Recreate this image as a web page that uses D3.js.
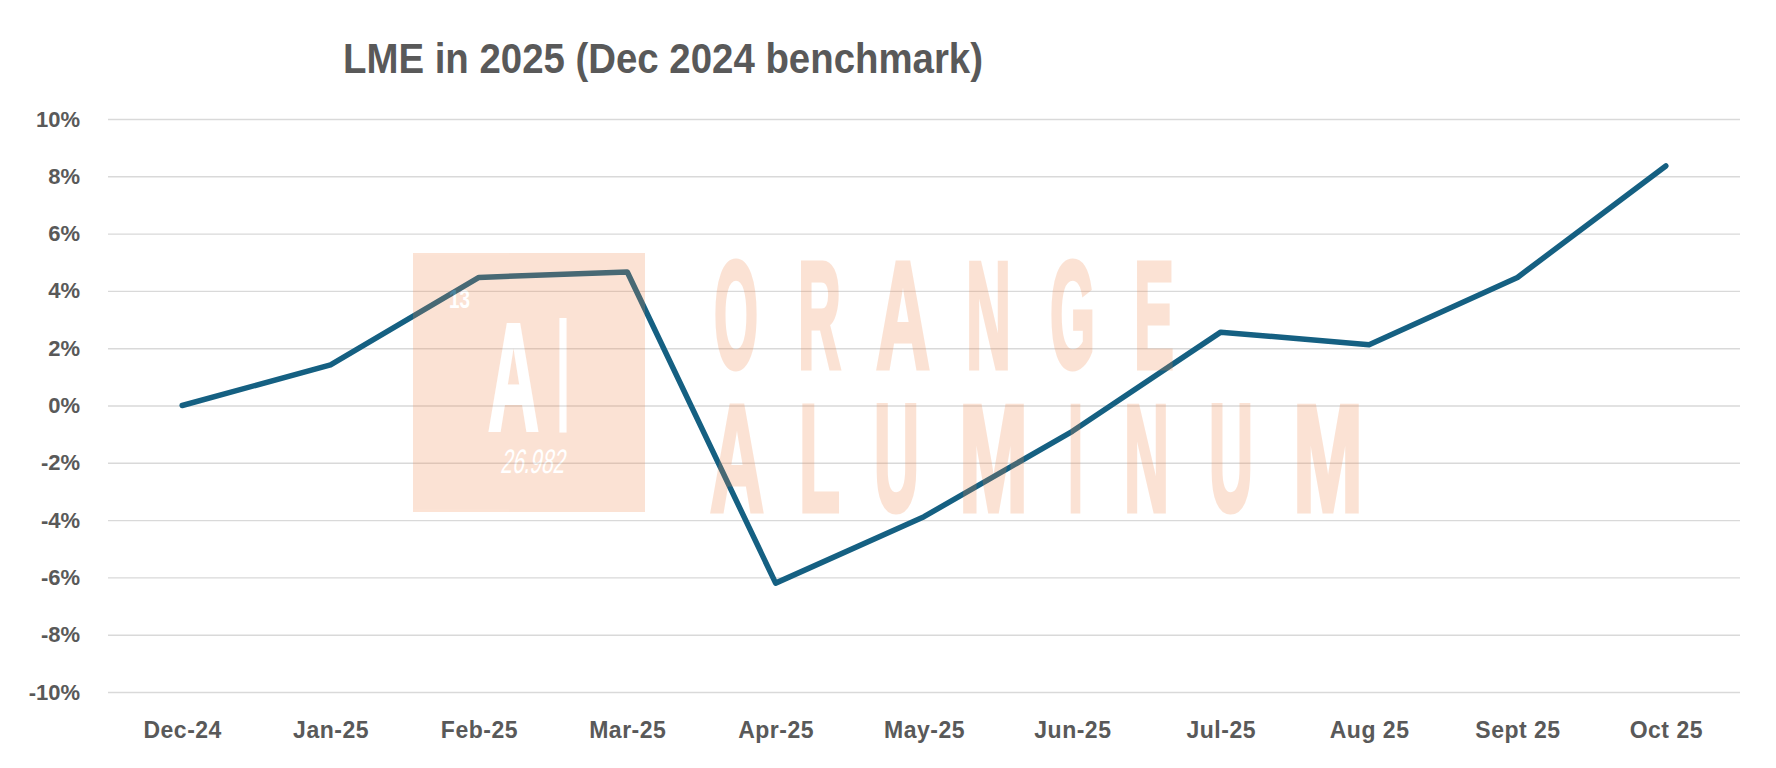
<!DOCTYPE html>
<html>
<head>
<meta charset="utf-8">
<script src="https://cdn.jsdelivr.net/npm/d3@7"></script>
<style>
  html, body { margin: 0; padding: 0; background: #ffffff; }
  svg { display: block; }
</style>
</head>
<body>
<svg id="chart" width="1776" height="768"></svg>
<script>
// ---- data ----
const categories = ["Dec-24", "Jan-25", "Feb-25", "Mar-25", "Apr-25", "May-25", "Jun-25", "Jul-25", "Aug 25", "Sept 25", "Oct 25"];
const changes = [0.0, 0.0142, 0.0447, 0.0466, -0.0620, -0.0388, -0.0090, 0.0256, 0.0212, 0.0447, 0.0836];
const yTicks = [-0.10, -0.08, -0.06, -0.04, -0.02, 0, 0.02, 0.04, 0.06, 0.08, 0.10];
const titleText = "LME in 2025 (Dec 2024 benchmark)";

// ---- layout ----
const plot = { left: 108, right: 1740, top: 119, bottom: 692 };
const textColor = "#595959";
const fontFam = "'Liberation Sans', Arial, sans-serif";

const svg = d3.select("#chart");

const x = d3.scalePoint().domain(categories).range([plot.left, plot.right]).padding(0.5);
const y = d3.scaleLinear().domain([-0.10, 0.10]).range([plot.bottom, plot.top]);

// gridlines + y labels
const yAxis = svg.append("g")
  .attr("transform", `translate(${plot.left},0)`)
  .call(d3.axisLeft(y)
    .tickValues(yTicks)
    .tickSize(-(plot.right - plot.left))
    .tickPadding(28)
    .tickFormat(d => Math.round(d * 100) + "%"));
yAxis.select(".domain").remove();
yAxis.selectAll(".tick line").attr("stroke", "#d9d9d9").attr("stroke-width", 1.4);
yAxis.selectAll(".tick text")
  .attr("fill", textColor)
  .attr("font-family", fontFam)
  .attr("font-weight", "bold")
  .attr("font-size", 22);

// x labels
const xAxis = svg.append("g")
  .attr("transform", `translate(0,${plot.bottom})`)
  .call(d3.axisBottom(x).tickSize(0).tickPadding(30));
xAxis.select(".domain").remove();
xAxis.selectAll(".tick text")
  .attr("fill", textColor)
  .attr("font-family", fontFam)
  .attr("font-weight", "bold")
  .attr("font-size", 23)
  .attr("letter-spacing", 0.5);

// line
const line = d3.line()
  .x((d, i) => x(categories[i]))
  .y(d => y(d));
svg.append("path")
  .datum(changes)
  .attr("d", line)
  .attr("fill", "none")
  .attr("stroke", "#156082")
  .attr("stroke-width", 5.5)
  .attr("stroke-linecap", "round")
  .attr("stroke-linejoin", "round");

// watermark (semi-transparent overlay)
const wm = svg.append("g").attr("opacity", 0.23).attr("pointer-events", "none");
const wmColor = "rgb(242,135,74)";
const wmFont = "'Liberation Sans Narrow', 'Liberation Sans', Arial, sans-serif";
wm.append("rect").attr("x", 413).attr("y", 253).attr("width", 232).attr("height", 259).attr("fill", wmColor);

function word(letters, baseline, size, fill, sw) {
  const t = wm.append("text")
    .attr("y", baseline)
    .attr("font-family", wmFont).attr("font-weight", "bold")
    .attr("font-size", size)
    .attr("fill", fill)
    .attr("stroke", fill).attr("stroke-width", sw).attr("stroke-linejoin", "miter");
  letters.forEach(l => {
    t.append("tspan")
      .attr("x", l[1])
      .attr("textLength", l[2] - l[1])
      .attr("lengthAdjust", "spacingAndGlyphs")
      .text(l[0]);
  });
}
const orange = [["O",714,758],["R",798,841],["A",876,930],["N",966,1011],["G",1050,1095],["E",1134,1174]];
word(orange, 368, 153, wmColor, 5);
const alum = [["A",710,764],["L",799,840],["U",874,919],["M",959,1028],["I",1068,1083],["N",1124,1169],["U",1209,1253],["M",1293,1363]];
word(alum, 511, 153, wmColor, 5);

word([["A",488,539],["l",557,569]], 430, 153, "#ffffff", 4);

wm.append("text").attr("x", 449).attr("y", 308)
  .attr("font-family", wmFont).attr("font-weight", "bold").attr("font-size", 25)
  .attr("textLength", 21).attr("lengthAdjust", "spacingAndGlyphs")
  .attr("fill", "#ffffff").text("13");
wm.append("text")
  .attr("transform", "translate(500,473) skewX(-12)")
  .attr("font-family", wmFont).attr("font-size", 34)
  .attr("textLength", 64).attr("lengthAdjust", "spacingAndGlyphs")
  .attr("fill", "#ffffff").text("26.982");

// title
svg.append("text")
  .attr("x", 343).attr("y", 73)
  .attr("font-family", fontFam)
  .attr("font-weight", "bold")
  .attr("font-size", 42)
  .attr("fill", textColor)
  .attr("textLength", 640)
  .attr("lengthAdjust", "spacingAndGlyphs")
  .text(titleText);
</script>
</body>
</html>
